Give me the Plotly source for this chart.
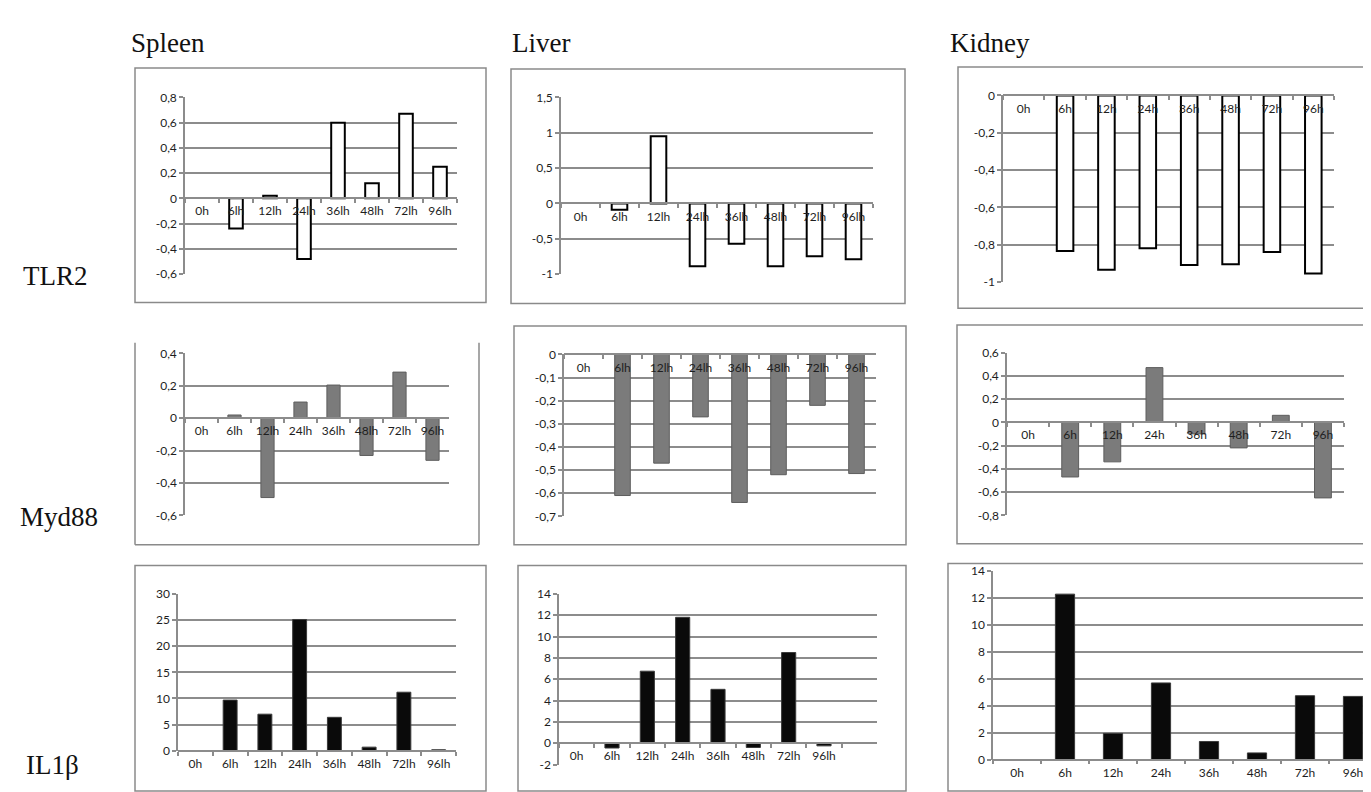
import plotly.graph_objects as go

W, H = 1371, 792

# ---------------- data ----------------
hours_a = ["0h", "6lh", "12lh", "24lh", "36lh", "48lh", "72lh", "96lh"]
hours_b = ["0h", "6h", "12h", "24h", "36h", "48h", "72h", "96h"]

tlr2_spleen = [None, -0.24, 0.02, -0.48, 0.60, 0.12, 0.67, 0.25]
tlr2_liver = [None, -0.09, 0.95, -0.89, -0.57, -0.89, -0.75, -0.79]
tlr2_kidney = [None, -0.835, -0.935, -0.82, -0.91, -0.905, -0.84, -0.955]

myd88_spleen = [None, 0.02, -0.49, 0.10, 0.205, -0.23, 0.285, -0.26]
myd88_liver = [None, -0.61, -0.47, -0.27, -0.64, -0.52, -0.22, -0.515]
myd88_kidney = [None, -0.47, -0.34, 0.47, -0.10, -0.22, 0.06, -0.65]

il1b_spleen = [None, 9.7, 7.0, 25.1, 6.4, 0.7, 11.2, 0.2]
il1b_liver = [None, -0.45, 6.75, 11.8, 5.05, -0.4, 8.5, -0.25]
il1b_kidney = [None, 12.3, 1.95, 5.7, 1.35, 0.5, 4.75, 4.7]

ticks_tlr2_spleen = [-0.6, -0.4, -0.2, 0, 0.2, 0.4, 0.6, 0.8]
ticks_tlr2_liver = [-1, -0.5, 0, 0.5, 1, 1.5]
ticks_tlr2_kidney = [-1, -0.8, -0.6, -0.4, -0.2, 0]
ticks_myd88_spleen = [-0.6, -0.4, -0.2, 0, 0.2, 0.4]
ticks_myd88_liver = [-0.7, -0.6, -0.5, -0.4, -0.3, -0.2, -0.1, 0]
ticks_myd88_kidney = [-0.8, -0.6, -0.4, -0.2, 0, 0.2, 0.4, 0.6]
ticks_il1b_spleen = [0, 5, 10, 15, 20, 25, 30]
ticks_il1b_liver = [-2, 0, 2, 4, 6, 8, 10, 12, 14]
ticks_il1b_kidney = [0, 2, 4, 6, 8, 10, 12, 14]

col_titles = ["Spleen", "Liver", "Kidney"]
row_titles = ["TLR2", "Myd88", "IL1β"]

# ---------------- styles / layout ----------------
STYLE = {
    "white": dict(color="#ffffff", line=dict(color="#000000", width=2)),
    "gray": dict(color="#7b7b7b", line=dict(color="#5e5e5e", width=1)),
    "black": dict(color="#0a0a0a", line=dict(color="#3a3a3a", width=1)),
}
GRID = "#8c8c8c"

# (values, categories, ticks, style, plot box px (x0,x1,ytop,ybottom), frame px (x0,x1,y0,y1), slots, frame_top)
panels = [
    (tlr2_spleen, hours_a, ticks_tlr2_spleen, "white", (177, 449, 83, 263), (127, 478, 53, 292), 8, True),
    (tlr2_liver, hours_a, ticks_tlr2_liver, "white", (553, 865, 83, 263), (503, 897, 54, 293), 8, True),
    (tlr2_kidney, hours_b, ticks_tlr2_kidney, "white", (995, 1326, 81, 271), (950, 1357, 52, 298), 8, True),
    (myd88_spleen, hours_a, ticks_myd88_spleen, "gray", (177, 441, 344, 509), (127, 471, 333, 539), 8, False),
    (myd88_liver, hours_a, ticks_myd88_liver, "gray", (556, 868, 345, 510), (506, 898, 316, 539), 8, True),
    (myd88_kidney, hours_b, ticks_myd88_kidney, "gray", (999, 1336, 343, 509), (949, 1366, 315, 538), 8, True),
    (il1b_spleen, hours_a, ticks_il1b_spleen, "black", (170, 448, 589, 749), (127, 478, 560, 790), 8, True),
    (il1b_liver, hours_a, ticks_il1b_liver, "black", (551, 869, 589, 763), (510, 898, 560, 790), 9, True),
    (il1b_kidney, hours_b, ticks_il1b_kidney, "black", (985, 1369, 566, 758), (940, 1369, 558, 790), 8, True),
]


def fmt(v):
    s = f"{v:g}".replace(".", ",")
    return "0" if s in ("-0", "0") else s


fig = go.Figure()
layout = {}
shapes = []
tickfont = dict(family="Lato, Calibri, sans-serif", size=12, color="#1e1e1e")

for i, (vals, cats, ticks, style, box, frame, slots, ftop) in enumerate(panels):
    n = i + 1
    xa = "x" if n == 1 else f"x{n}"
    ya = "y" if n == 1 else f"y{n}"
    x0, x1, yt, yb = box
    xd = [x0 / W, x1 / W]
    yd = [1 - yb / H, 1 - yt / H]
    r0, r1 = min(ticks), max(ticks)
    zero_pos = yd[0] + (0 - r0) / (r1 - r0) * (yd[1] - yd[0])

    fig.add_trace(go.Bar(
        x=cats, y=vals, xaxis=xa, yaxis=ya, width=0.4,
        marker=STYLE[style], showlegend=False, hoverinfo="x+y",
    ))

    key = "xaxis" if n == 1 else f"xaxis{n}"
    ykey = "yaxis" if n == 1 else f"yaxis{n}"
    layout[key] = dict(
        domain=xd, anchor="free", position=zero_pos,
        type="category", categoryorder="array", categoryarray=cats,
        range=[-0.5, slots - 0.5], showgrid=False, zeroline=False,
        showline=True, linecolor=GRID, linewidth=1.5,
        ticks="outside", tickson="boundaries", ticklen=4, tickcolor=GRID,
        tickwidth=1.5, tickfont=tickfont, ticklabelstandoff=2,
        fixedrange=True,
    )
    layout[ykey] = dict(
        domain=yd, anchor=xa, range=[r0, r1],
        tickvals=ticks, ticktext=[fmt(t) for t in ticks],
        showgrid=True, gridcolor=GRID, gridwidth=1.5, zeroline=False,
        showline=True, linecolor=GRID, linewidth=1.5,
        ticks="outside", ticklen=4, tickcolor=GRID, tickwidth=1.5,
        tickfont=tickfont, fixedrange=True,
    )

    fx0, fx1, fy0, fy1 = frame
    line = dict(color="#8a8a8a", width=1.5)
    if ftop:
        shapes.append(dict(type="rect", xref="paper", yref="paper",
                           x0=fx0 / W, x1=fx1 / W, y0=1 - fy1 / H, y1=1 - fy0 / H,
                           line=line, layer="below"))
    else:
        for (a, b, c, d) in [(fx0, fx0, fy0, fy1), (fx1, fx1, fy0, fy1), (fx0, fx1, fy1, fy1)]:
            shapes.append(dict(type="line", xref="paper", yref="paper",
                               x0=a / W, x1=b / W, y0=1 - c / H, y1=1 - d / H,
                               line=line, layer="below"))

annotations = []
serif = dict(family="Liberation Serif, Times New Roman, serif", size=27, color="#111111")
col_x = [121, 502, 940]
for t, x in zip(col_titles, col_x):
    annotations.append(dict(text=t, x=x / W, y=1 - 28 / H, xref="paper", yref="paper",
                            xanchor="left", yanchor="middle", showarrow=False, font=serif))
row_pos = [(47, 265), (51, 511), (44, 763)]
for t, (x, y) in zip(row_titles, row_pos):
    annotations.append(dict(text=t, x=x / W, y=1 - y / H, xref="paper", yref="paper",
                            xanchor="center", yanchor="middle", showarrow=False, font=serif))

fig.update_layout(
    width=W, height=H, margin=dict(l=0, r=0, t=0, b=0),
    paper_bgcolor="white", plot_bgcolor="rgba(0,0,0,0)",
    bargap=0.6, showlegend=False, shapes=shapes, annotations=annotations,
    **layout,
)

fig.write_html("out.html", config={"displayModeBar": False})
